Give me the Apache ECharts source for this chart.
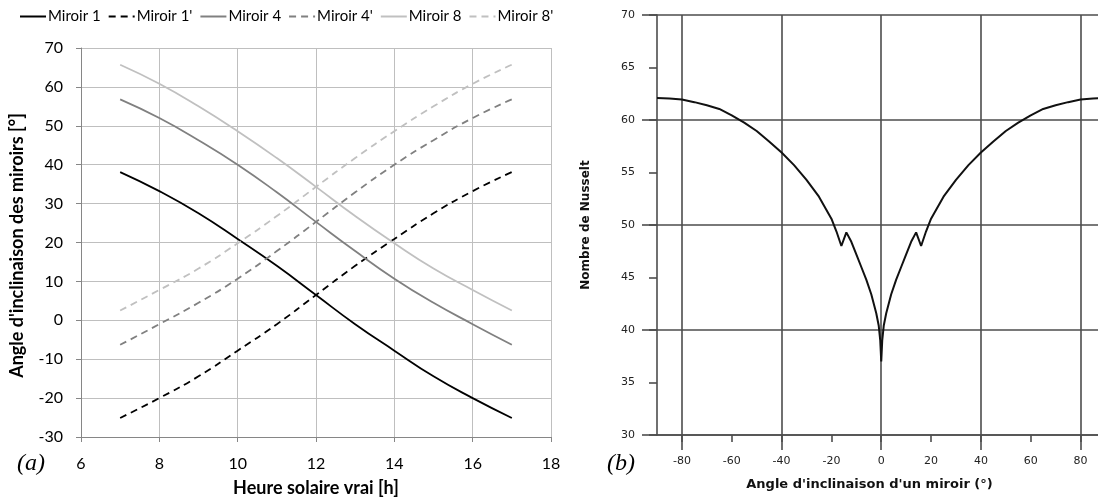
<!DOCTYPE html>
<html>
<head>
<meta charset="utf-8">
<script src="https://cdn.jsdelivr.net/npm/echarts@6/dist/echarts.min.js"></script>
<style>
  html, body { margin: 0; padding: 0; background: #fff; }
  #main { width: 1098px; height: 502px; }
</style>
</head>
<body>
<div id="main"></div>
<script>
// (a) angle des miroirs selon l'heure
var hours = [7, 8, 9, 10, 11, 12, 13, 14, 15, 16, 17];
var miroir1 = [38.1, 33.2, 27.5, 20.9, 14.0, 6.5, -1.0, -7.8, -14.4, -20.0, -25.1];
var miroir1p = [-25.1, -20.0, -14.4, -7.8, -1.0, 6.5, 14.0, 20.9, 27.5, 33.2, 38.1];
var miroir4 = [56.8, 52.0, 46.3, 40.0, 32.9, 25.3, 17.8, 10.7, 4.5, -1.0, -6.3];
var miroir4p = [-6.3, -1.0, 4.5, 10.7, 17.8, 25.3, 32.9, 40.0, 46.3, 52.0, 56.8];
var miroir8 = [65.7, 60.8, 55.0, 48.6, 41.7, 34.3, 26.8, 19.8, 13.3, 7.8, 2.5];
var miroir8p = [2.5, 7.8, 13.3, 19.8, 26.8, 34.3, 41.7, 48.6, 55.0, 60.8, 65.7];

// (b) Nusselt selon l'angle
var angles = [-90, -85, -80, -75, -70, -65, -60, -55, -50, -45, -40, -35, -30, -25, -20, -18, -16, -14, -12, -10, -8, -6, -4, -2, -1, -0.4, 0,
  0.4, 1, 2, 4, 6, 8, 10, 12, 14, 16, 18, 20, 25, 30, 35, 40, 45, 50, 55, 60, 65, 70, 75, 80, 85, 90];
var nusselt = [62.1, 62.05, 61.95, 61.7, 61.4, 61.05, 60.45, 59.75, 58.95, 57.95, 56.9, 55.7, 54.3, 52.7, 50.6, 49.4, 48.0, 49.3, 48.4, 47.2, 46.0, 44.8, 43.4, 41.6, 40.4, 39.0, 37.0,
  39.0, 40.4, 41.6, 43.4, 44.8, 46.0, 47.2, 48.4, 49.3, 48.0, 49.4, 50.6, 52.7, 54.3, 55.7, 56.9, 57.95, 58.95, 59.75, 60.45, 61.05, 61.4, 61.7, 61.95, 62.05, 62.1];
var xLabelsB = [-80, -60, -40, -20, 0, 20, 40, 60, 80];
var xGridB = [-80, -40, 0, 40, 80];

function pairs (xs, ys) {
  var out = [];
  for (var i = 0; i < xs.length; i++) {
    out.push([xs[i], ys[i]]);
  }
  return out;
}

var calibri = 'Lato, "Open Sans", sans-serif';
var dejavu = '"DejaVu Sans", Verdana, sans-serif';
var darkLine = '#4d4d4d';

function lineA (name, data, color, dashed) {
  return {
    name: name,
    type: 'line',
    xAxisIndex: 0,
    yAxisIndex: 0,
    data: pairs(hours, data),
    smooth: true,
    symbol: 'none',
    lineStyle: { color: color, width: 1.8, type: dashed ? [7, 5] : 'solid' },
    itemStyle: { color: color }
  };
}

var myChart = echarts.init(document.getElementById('main'));

var option = {
  animation: false,
  backgroundColor: '#fff',
  legend: {
    left: 14,
    top: 4,
    itemWidth: 26,
    itemHeight: 10,
    itemGap: 7,
    itemStyle: { opacity: 0 },
    textStyle: { fontFamily: calibri, fontSize: 15, color: '#000', padding: [0, 0, 0, -3] },
    data: ['Miroir 1', "Miroir 1'", 'Miroir 4', "Miroir 4'", 'Miroir 8', "Miroir 8'"]
  },
  grid: [
    { left: 81, right: 547, top: 48, bottom: 64 },
    { left: 657, right: 0, top: 15, bottom: 67 }
  ],
  xAxis: [
    {
      gridIndex: 0,
      type: 'value',
      min: 6,
      max: 18,
      interval: 2,
      name: 'Heure solaire vrai [h]',
      nameLocation: 'middle',
      nameGap: 42,
      nameTextStyle: { fontFamily: calibri, fontSize: 18, fontWeight: 'bold', color: '#000' },
      axisLine: { onZero: false, lineStyle: { color: '#868686', width: 1 } },
      axisTick: { show: true, length: 5, lineStyle: { color: '#868686' } },
      axisLabel: { margin: 19, fontFamily: calibri, fontSize: 16, color: '#000' },
      splitLine: { show: true, lineStyle: { color: '#bfbfbf', width: 1 } }
    },
    {
      gridIndex: 1,
      type: 'value',
      position: 'bottom',
      min: -90,
      max: 87,
      name: "Angle d'inclinaison d'un miroir (°)",
      nameLocation: 'middle',
      nameGap: 43,
      nameTextStyle: { fontFamily: dejavu, fontSize: 13, fontWeight: 'bold', color: '#111', padding: [0, 16, 0, 0] },
      axisLine: { onZero: false, lineStyle: { color: darkLine, width: 1.6 } },
      axisTick: { show: true, length: 7, customValues: xLabelsB, lineStyle: { color: darkLine, width: 1.6 } },
      axisLabel: { margin: 21, customValues: xLabelsB, fontFamily: dejavu, fontSize: 11, color: '#222' },
      splitLine: { show: false }
    },
    {
      // grandes graduations et quadrillage vertical
      gridIndex: 1,
      type: 'value',
      position: 'bottom',
      min: -90,
      max: 87,
      axisLine: { show: false, onZero: false },
      axisTick: { show: true, length: 15, customValues: xGridB, lineStyle: { color: darkLine, width: 1.6 } },
      axisLabel: { show: false, customValues: xGridB },
      splitLine: { show: true, lineStyle: { color: darkLine, width: 1.6 } }
    }
  ],
  yAxis: [
    {
      gridIndex: 0,
      type: 'value',
      min: -30,
      max: 70,
      interval: 10,
      name: "Angle d'inclinaison des miroirs [°]",
      nameLocation: 'middle',
      nameGap: 55,
      nameTextStyle: { fontFamily: calibri, fontSize: 18, fontWeight: 'bold', color: '#000', padding: [0, 6, 0, 0] },
      axisLine: { show: true, onZero: false, lineStyle: { color: '#868686', width: 1 } },
      axisTick: { show: true, length: 5, lineStyle: { color: '#868686' } },
      axisLabel: { margin: 18, fontFamily: calibri, fontSize: 16, color: '#000' },
      splitLine: { show: true, lineStyle: { color: '#bfbfbf', width: 1 } }
    },
    {
      gridIndex: 1,
      type: 'value',
      position: 'left',
      min: 30,
      max: 70,
      interval: 5,
      name: 'Nombre de Nusselt',
      nameLocation: 'middle',
      nameGap: 65,
      nameTextStyle: { fontFamily: dejavu, fontSize: 12, fontWeight: 'bold', color: '#111' },
      axisLine: { show: true, onZero: false, lineStyle: { color: darkLine, width: 1.6 } },
      axisTick: { show: true, length: 8, lineStyle: { color: darkLine, width: 1.6 } },
      axisLabel: { margin: 22, fontFamily: dejavu, fontSize: 11, color: '#222' },
      splitLine: { show: false }
    },
    {
      // quadrillage horizontal tous les 10
      gridIndex: 1,
      type: 'value',
      position: 'left',
      min: 30,
      max: 70,
      interval: 10,
      axisLine: { show: false, onZero: false },
      axisTick: { show: true, length: 15, lineStyle: { color: darkLine, width: 1.6 } },
      axisLabel: { show: false },
      splitLine: { show: true, lineStyle: { color: darkLine, width: 1.6 } }
    }
  ],
  graphic: [
    { type: 'text', left: 17, top: 452, style: { text: '(a)', font: 'italic 24px "Liberation Serif", serif', fill: '#000' } },
    { type: 'text', left: 607, top: 452, style: { text: '(b)', font: 'italic 24px "Liberation Serif", serif', fill: '#000' } }
  ],
  series: [
    lineA('Miroir 1', miroir1, '#000000', false),
    lineA("Miroir 1'", miroir1p, '#000000', true),
    lineA('Miroir 4', miroir4, '#808080', false),
    lineA("Miroir 4'", miroir4p, '#808080', true),
    lineA('Miroir 8', miroir8, '#c0c0c0', false),
    lineA("Miroir 8'", miroir8p, '#c0c0c0', true),
    {
      name: 'Nusselt',
      type: 'line',
      xAxisIndex: 1,
      yAxisIndex: 1,
      data: pairs(angles, nusselt),
      symbol: 'none',
      lineStyle: { color: '#111', width: 2 },
      z: 5
    }
  ]
};

myChart.setOption(option);
</script>
</body>
</html>
